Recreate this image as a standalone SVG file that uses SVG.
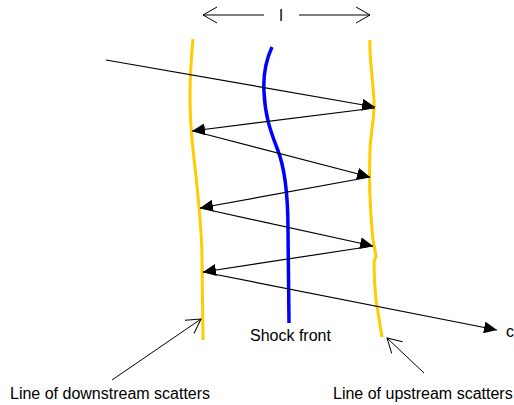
<svg xmlns="http://www.w3.org/2000/svg" width="514" height="405" viewBox="0 0 514 405">
<style>
.lbl{font-family:"Liberation Sans",Arial,sans-serif;font-size:16px;fill:#000}
.ray{stroke:#000;stroke-width:1.2;fill:none}
.ptr{stroke:#000;stroke-width:1;fill:none}
.scat{stroke:#FFCC00;stroke-width:3;fill:none;stroke-linecap:butt}
.shock{stroke:#0000FF;stroke-width:3.5;fill:none}
</style>
<defs>
<marker id="solid" markerUnits="userSpaceOnUse" markerWidth="14" markerHeight="12" refX="13" refY="6" orient="auto">
<path d="M0,0 L13,6 L0,12 Z" fill="#000"/>
</marker>
<marker id="open" markerUnits="userSpaceOnUse" markerWidth="16" markerHeight="18" refX="15" refY="9" orient="auto">
<path d="M1,1 L15,9 L1,17" fill="none" stroke="#000" stroke-width="1"/>
</marker>
</defs>
<g id="dimension">
<line class="ptr" x1="264" y1="15" x2="203" y2="15" marker-end="url(#open)"/>
<line class="ptr" x1="299" y1="15" x2="370" y2="15" marker-end="url(#open)"/>
<text class="lbl" x="281" y="21" text-anchor="middle">l</text>
</g>
<g id="downstream-line">
<path class="scat" d="M193,39 C190,70 189,110 192,140 C195,170 202,220 202,260 L203,340"/>
</g>
<g id="upstream-line">
<path class="scat" d="M370,40 C369,55 372,70 374,100 C375,115 371,130 370,150 C369,175 370,210 373,240 L376,256 L374,262 C374,275 375,290 376,300 L382,337"/>
</g>
<g id="shock-front">
<path class="shock" d="M272,47 C266,60 263,75 264,92 C265,115 270,130 277,148 C284,165 288,190 288,230 L289,323"/>
<text class="lbl" x="250" y="341">Shock front</text>
</g>
<g id="connectors">
<line class="ray" x1="106" y1="60" x2="375" y2="107" marker-end="url(#solid)"/>
<line class="ray" x1="375" y1="108" x2="192" y2="131" marker-end="url(#solid)"/>
<line class="ray" x1="193" y1="131" x2="370" y2="177" marker-end="url(#solid)"/>
<line class="ray" x1="370" y1="177" x2="200" y2="208" marker-end="url(#solid)"/>
<line class="ray" x1="200" y1="208" x2="373" y2="246" marker-end="url(#solid)"/>
<line class="ray" x1="373" y1="246" x2="203" y2="272" marker-end="url(#solid)"/>
<line class="ray" x1="203" y1="272" x2="497" y2="330" marker-end="url(#solid)"/>
<line class="ptr" x1="112" y1="380" x2="201" y2="319" marker-end="url(#open)"/>
<line class="ptr" x1="424" y1="373" x2="387" y2="338" marker-end="url(#open)"/>
</g>
<g id="labels">
<text class="lbl" x="506" y="337">c</text>
<text class="lbl" x="10" y="399">Line of downstream scatters</text>
<text class="lbl" x="333" y="399">Line of upstream scatters</text>
</g>
</svg>
